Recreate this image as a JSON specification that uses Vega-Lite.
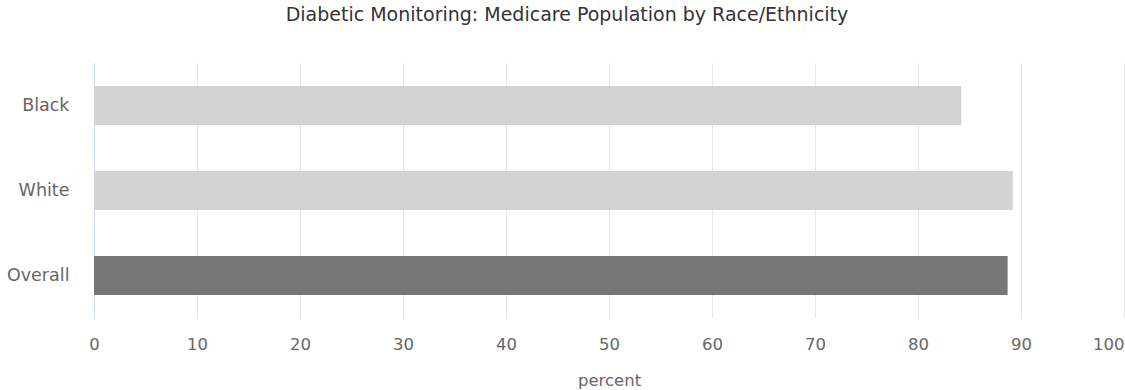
{
  "$schema": "https://vega.github.io/schema/vega-lite/v6.json",
  "width": 1030,
  "height": 255,
  "autosize": {"type": "none"},
  "padding": {"left": 94, "top": 63, "right": 1, "bottom": 72},
  "background": "white",
  "title": {
    "text": "Diabetic Monitoring: Medicare Population by Race/Ethnicity",
    "font": "DejaVu Sans",
    "fontSize": 19,
    "fontWeight": "normal",
    "color": "#333333",
    "anchor": "middle",
    "dx": -42,
    "offset": 38
  },
  "data": {
    "values": [
      {"group": "Black", "percent": 84.2, "type": "Race"},
      {"group": "White", "percent": 89.2, "type": "Race"},
      {"group": "Overall", "percent": 88.7, "type": "Overall"}
    ]
  },
  "mark": {"type": "bar"},
  "encoding": {
    "y": {
      "field": "group",
      "type": "nominal",
      "sort": null,
      "scale": {"paddingInner": 0.54, "paddingOuter": 0.27},
      "axis": {
        "title": null,
        "domainColor": "#ccd6eb",
        "domainWidth": 1,
        "ticks": false,
        "grid": false,
        "labelPadding": 25,
        "labelFont": "DejaVu Sans",
        "labelFontSize": 17.5,
        "labelColor": "#666666"
      }
    },
    "x": {
      "field": "percent",
      "type": "quantitative",
      "scale": {"domain": [0, 100], "nice": false},
      "axis": {
        "title": "percent",
        "values": [0, 10, 20, 30, 40, 50, 60, 70, 80, 90, 100],
        "domain": false,
        "ticks": false,
        "grid": true,
        "gridColor": "#e6e6e6",
        "labelPadding": 18,
        "labelFont": "DejaVu Sans",
        "labelFontSize": 16.5,
        "labelColor": "#666666",
        "labelAlign": {"expr": "datum.value == 100 ? 'right' : 'center'"},
        "titlePadding": 20,
        "titleFont": "DejaVu Sans",
        "titleFontSize": 16.5,
        "titleFontWeight": "normal",
        "titleColor": "#666666"
      }
    },
    "color": {
      "field": "type",
      "type": "nominal",
      "scale": {"domain": ["Race", "Overall"], "range": ["#d3d3d3", "#777777"]},
      "legend": null
    }
  },
  "config": {"view": {"stroke": null}}
}
